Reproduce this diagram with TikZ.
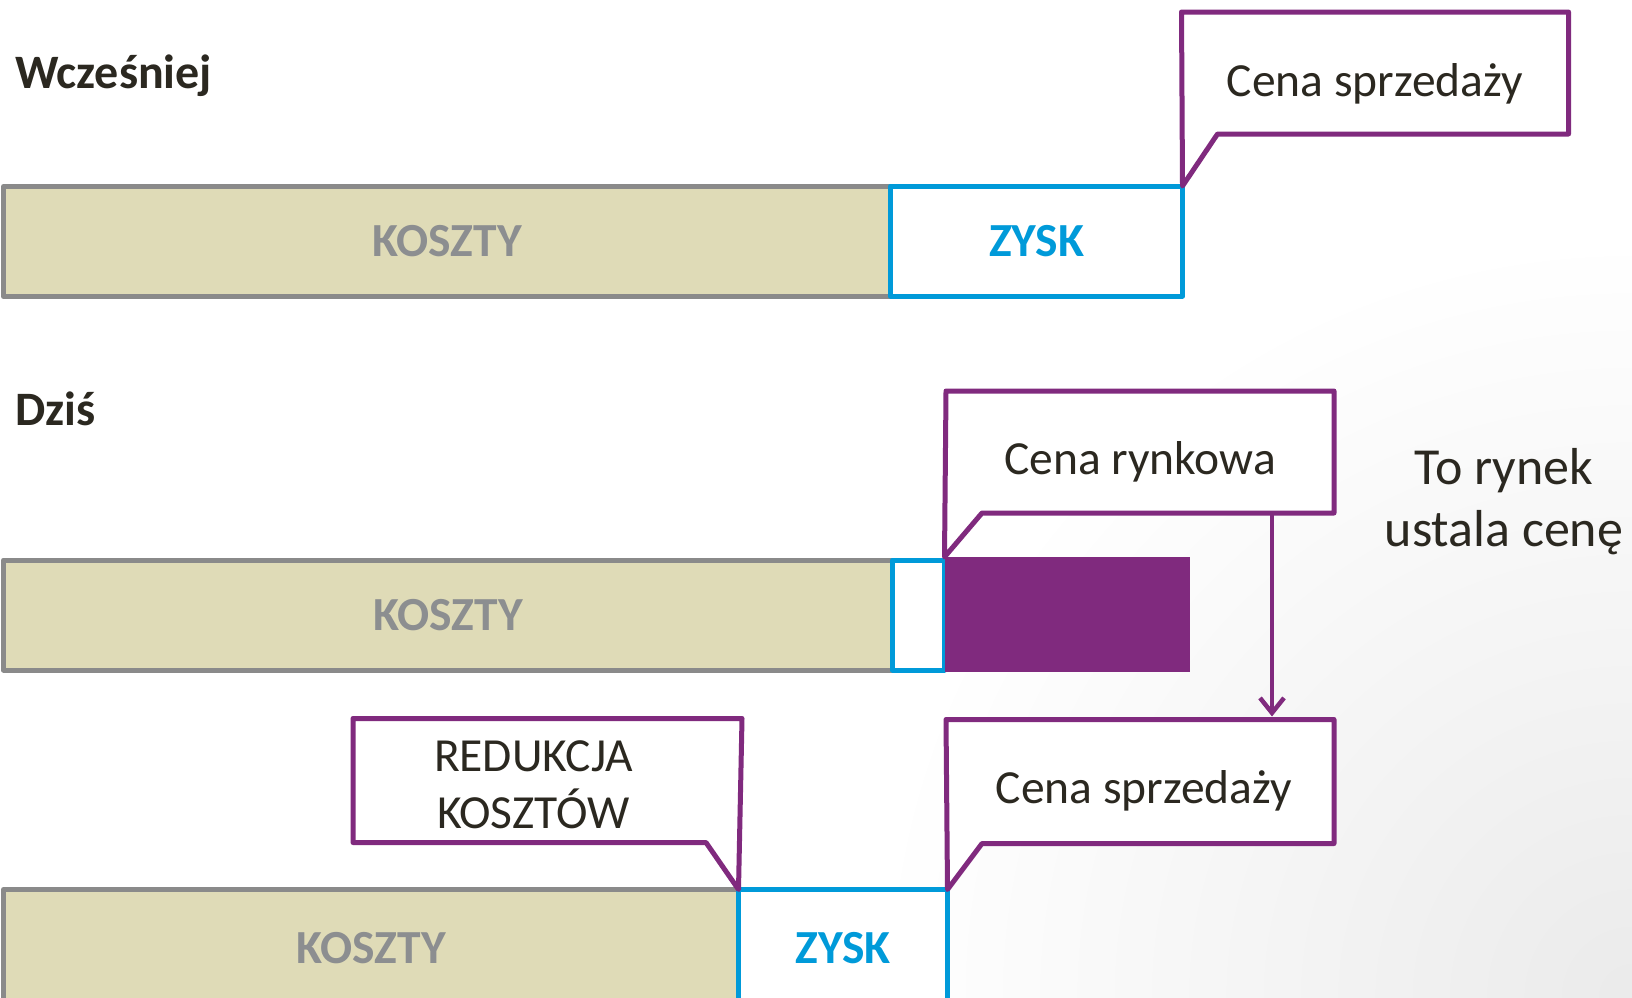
\documentclass[tikz,border=0pt]{standalone}
\usepackage{fontspec}
\setmainfont{Carlito}
\usetikzlibrary{arrows.meta}
\definecolor{beige}{HTML}{DFDBB7}
\definecolor{grayb}{HTML}{8A8A8A}
\definecolor{grayt}{HTML}{8C8E90}
\definecolor{blu}{HTML}{009AD9}
\definecolor{purp}{HTML}{802A7E}
\definecolor{dark}{HTML}{2B2820}
\begin{document}
\begin{tikzpicture}[x=1pt,y=-1pt,
  every node/.style={inner sep=0pt, outer sep=0pt},
  box/.style={anchor=north west, line width=5pt, line join=round},
  cost/.style={box, draw=grayb, fill=beige, text=grayt, font=\fontsize{47.5}{56}\selectfont\bfseries},
  profit/.style={box, draw=blu, fill=white, text=blu, font=\fontsize{47.5}{56}\selectfont\bfseries},
  calltext/.style={anchor=north west},
  label/.style={text=dark, align=center, font=\fontsize{47.5}{57}\selectfont},
  callout/.style={draw=purp, line width=5pt, line join=round, fill=white},
  head/.style={anchor=base west, text=dark, font=\fontsize{48}{56}\selectfont\bfseries},
  big/.style={anchor=base, text=dark, font=\fontsize{52}{62}\selectfont},
  arr/.style={draw=purp, line width=4.5pt, -{Straight Barb[length=15pt,width=24pt]}}
]
\useasboundingbox (0,0) rectangle (1632,997);
\clip (0,0) rectangle (1632,997);
\fill[white] (0,0) rectangle (1632,997);
\shade[inner color=black!8, outer color=white] (1632,997) circle (760);

% headings
\node[head] (t1) at (15,88) {Wcześniej};
\node[head] (t2) at (15,425) {Dziś};

% top row
\node[cost, minimum width=887pt, minimum height=110pt] (k1) at (3.5,186.5) {KOSZTY};
\node[profit, minimum width=292pt, minimum height=110pt] (z1) at (890.5,186) {ZYSK};
\node[calltext, minimum width=387pt, minimum height=122pt] (c1) at (1181.5,12) {};
\draw[callout] (c1.north west) -- (c1.north east) -- (c1.south east) -- ([xshift=36pt]c1.south west) -- (z1.north east) -- cycle;
\node[label] at ([yshift=-11pt]c1.center) {Cena sprzedaży};

% middle row
\node[cost, minimum width=889pt, minimum height=110pt] (k2) at (3.5,560) {KOSZTY};
\node[profit, minimum width=52pt, minimum height=110pt] (z2) at (892.5,560) {};
\node[anchor=north west, fill=purp, minimum width=245pt, minimum height=115pt] (p2) at (944.5,557) {};
\node[calltext, minimum width=388pt, minimum height=122pt] (c2) at (946,391) {};
\draw[callout] (c2.north west) -- (c2.north east) -- (c2.south east) -- ([xshift=36pt]c2.south west) -- (p2.north west) -- cycle;
\node[label] at ([yshift=-10pt]c2.center) {Cena rynkowa};

\node[big] (t3a) at (1504,484) {To rynek};
\node[big] (t3b) at (1504,546) {ustala cenę};

% bottom row
\node[cost, minimum width=735pt, minimum height=118pt] (k3) at (3.5,889.5) {KOSZTY};
\node[profit, minimum width=209pt, minimum height=118pt] (z3) at (738.5,889.5) {ZYSK};
\node[calltext, minimum width=389pt, minimum height=124pt] (c3) at (353,718.5) {};
\draw[callout] (c3.north west) -- (c3.north east) -- (k3.north east) -- ([xshift=-36pt]c3.south east) -- (c3.south west) -- cycle;
\node[label] at ([xshift=-14pt,yshift=-4pt]c3.center) {REDUKCJA\\KOSZTÓW};
\node[calltext, minimum width=388pt, minimum height=124pt] (c4) at (946,719.5) {};
\draw[callout] (c4.north west) -- (c4.north east) -- (c4.south east) -- ([xshift=36pt]c4.south west) -- (z3.north east) -- cycle;
\node[label] at ([xshift=4pt,yshift=-9pt]c4.center) {Cena sprzedaży};

% arrow
\draw[arr] ([xshift=326pt]c2.south west) -- ([xshift=326pt,yshift=3pt]c4.north west);
\end{tikzpicture}
\end{document}
